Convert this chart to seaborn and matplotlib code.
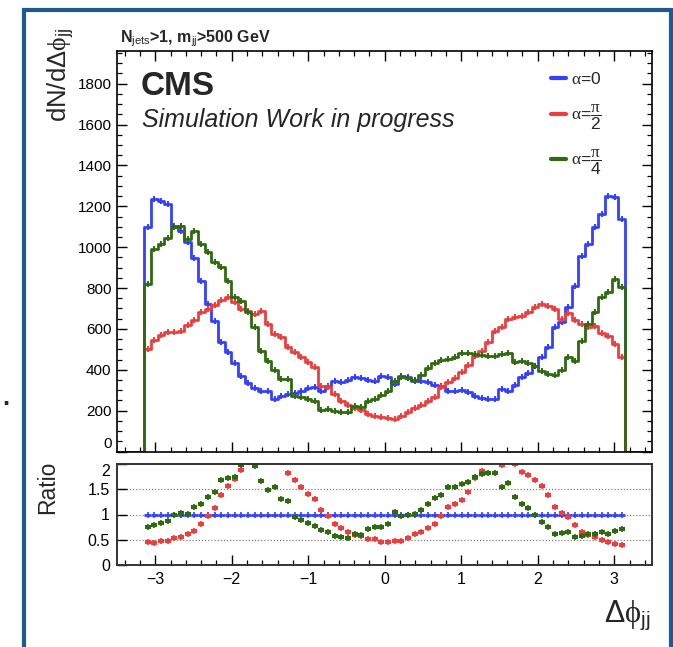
import numpy as np
import pandas as pd
import matplotlib
matplotlib.use("Agg")
import matplotlib.pyplot as plt
import seaborn as sns
from matplotlib.patches import Rectangle
from matplotlib.lines import Line2D
from matplotlib.ticker import MultipleLocator, FixedLocator, FuncFormatter

# Delta-phi_jj distributions (72 bins over [-pi, pi]) for three CP-mixing angles
alpha_0 = [1097, 1236, 1228, 1211, 1105, 1078, 1027, 947, 836, 722, 640, 534, 485, 431, 371, 333,
           310, 297, 297, 257, 273, 281, 288, 297, 310, 314, 297, 322, 343, 341, 351, 363,
           358, 351, 346, 371, 363, 330, 371, 363, 346, 346, 338, 327, 322, 294, 297, 300,
           293, 273, 262, 257, 257, 306, 297, 327, 363, 382, 420, 461, 510, 608, 632, 706,
           812, 958, 1016, 1097, 1162, 1252, 1244, 1138]
alpha_pi2 = [502, 545, 572, 583, 583, 591, 621, 643, 681, 697, 718, 741, 754, 730, 697, 686,
             673, 686, 624, 575, 559, 510, 485, 461, 436, 412, 322, 314, 281, 249, 229, 213,
             203, 183, 175, 170, 164, 159, 175, 191, 211, 229, 245, 268, 314, 338, 359, 387,
             425, 469, 490, 534, 591, 607, 648, 656, 665, 681, 709, 720, 710, 697, 650, 676,
             645, 622, 610, 615, 580, 567, 525, 461]
alpha_pi4 = [820, 991, 1016, 1045, 1097, 1105, 1040, 1081, 1016, 975, 926, 901, 836, 754, 738, 681,
             607, 493, 444, 399, 355, 355, 273, 265, 257, 245, 203, 208, 200, 191, 191, 224,
             216, 249, 257, 278, 294, 346, 363, 359, 350, 376, 408, 433, 449, 452, 461, 480,
             482, 475, 472, 469, 469, 475, 480, 440, 441, 433, 418, 395, 379, 374, 399, 461,
             444, 542, 624, 681, 754, 779, 844, 803]

series_labels = [r"$\alpha$=0", r"$\alpha$=$\dfrac{\pi}{2}$", r"$\alpha$=$\dfrac{\pi}{4}$"]
series_colors = ["#3340ff", "#ee3d3d", "#2f6a10"]

header_text = r"N$_{\mathrm{jets}}$>1, m$_{\mathrm{jj}}$>500 GeV"
x_range = (-3.5, 3.5)

sns.set_theme(style="ticks")
plt.rcParams["font.family"] = ["Liberation Sans", "DejaVu Sans"]
plt.rcParams["mathtext.fontset"] = "custom"
plt.rcParams["mathtext.rm"] = "Liberation Sans"
plt.rcParams["mathtext.sf"] = "Liberation Sans"
plt.rcParams["mathtext.it"] = "Liberation Serif"
plt.rcParams["mathtext.bf"] = "Liberation Sans:bold"
plt.rcParams["axes.unicode_minus"] = True

n_bins = len(alpha_0)
edges = np.linspace(-np.pi, np.pi, n_bins + 1)
centers = 0.5 * (edges[:-1] + edges[1:])
width = edges[1] - edges[0]

# outer empty bins so the outline runs along zero out to the frame edges
ext_edges = np.concatenate([[x_range[0]], edges, [x_range[1]]])
ext_centers = 0.5 * (ext_edges[:-1] + ext_edges[1:])

W, H = 673, 647
fig = plt.figure(figsize=(W / 100, H / 100), dpi=100)
fig.patch.set_facecolor("white")

ax = fig.add_axes([117 / W, 1 - 451.5 / H, 535.5 / W, 400.5 / H])
axr = fig.add_axes([117 / W, 1 - 565 / H, 535.5 / W, 101 / H])

all_series = [alpha_0, alpha_pi2, alpha_pi4]
for vals, col in zip(all_series, series_colors):
    df = pd.DataFrame({"dphi": ext_centers, "w": np.concatenate([[0.0], vals, [0.0]])})
    sns.histplot(data=df, x="dphi", weights="w", bins=list(ext_edges), element="step",
                 fill=False, color=col, linewidth=2.0, ax=ax)
    ax.plot(centers, vals, ls="none", marker="|", ms=5, mew=1.4, color=col)

ax.set_xlim(*x_range)
ax.set_ylim(0, 1960)
ax.set_xlabel("")
ax.set_ylabel("")
ax.xaxis.set_major_locator(MultipleLocator(1))
ax.xaxis.set_minor_locator(MultipleLocator(0.2))
ax.yaxis.set_major_locator(MultipleLocator(200))
ax.yaxis.set_minor_locator(MultipleLocator(50))
ax.yaxis.set_major_formatter(FuncFormatter(lambda v, p: f"{v:.0f}"))
ax.tick_params(which="both", direction="in", top=True, right=True, labelbottom=False,
               colors="black", labelsize=11, pad=4)
ax.tick_params(which="major", length=7, width=1.0)
ax.tick_params(which="minor", length=3.5, width=0.9)
for s in ax.spines.values():
    s.set_color("black")
    s.set_linewidth(1.2)

handles = [Line2D([], [], color=c, lw=3) for c in series_colors]
ax.legend(handles, series_labels, loc="upper left", bbox_to_anchor=(551 / W, 1 - 71 / H),
          bbox_transform=fig.transFigure, frameon=False, fontsize=12.5, handlelength=0.85,
          handletextpad=0.3, labelspacing=0.9, borderpad=0, borderaxespad=0)

# ratio to alpha = 0
base = np.asarray(alpha_0, dtype=float)
for vals, col in zip(all_series, series_colors):
    r = np.asarray(vals, dtype=float) / base
    if vals is alpha_0:
        axr.errorbar(centers, r, xerr=width / 2, fmt="none", ecolor=col, elinewidth=2.0)
        axr.plot(centers, r, ls="none", marker="|", ms=5, mew=1.2, color=col)
    else:
        axr.plot(centers, r, ls="none", marker="_", ms=5, mew=3, color=col)
        axr.plot(centers, r, ls="none", marker="|", ms=5, mew=1.2, color=col)

axr.set_xlim(*x_range)
axr.set_ylim(0, 2)
axr.set_xlabel("")
axr.set_ylabel("")
axr.yaxis.set_major_locator(FixedLocator([0, 0.5, 1, 1.5, 2]))
axr.yaxis.set_major_formatter(FuncFormatter(lambda v, p: f"{v:g}"))
axr.xaxis.set_major_locator(MultipleLocator(1))
axr.xaxis.set_minor_locator(MultipleLocator(0.2))
for yv in (0.5, 1.0, 1.5):
    axr.axhline(yv, color="#808080", ls=(0, (1, 1.5)), lw=0.9, zorder=0)
axr.tick_params(which="both", direction="in", colors="black", labelsize=11.5, pad=5)
axr.tick_params(which="major", length=7, width=1.0)
axr.tick_params(which="minor", length=3.5, width=0.9)
for s in axr.spines.values():
    s.set_color("#333333")
    s.set_linewidth(1.4)

# keep the shared "0" / "2" labels at the pad boundary apart
fig.canvas.draw()
for lab in ax.get_yticklabels():
    if lab.get_text() == "0":
        lab.set_va("bottom")
for lab in axr.get_yticklabels():
    if lab.get_text() == "2":
        lab.set_va("top")

# annotations
fig.text(120 / W, 1 - 43 / H, header_text, fontsize=11.5, weight="bold", va="baseline")
fig.text(141 / W, 1 - 95 / H, "CMS", fontsize=24, weight="bold", va="baseline")
fig.text(142 / W, 1 - 127 / H, "Simulation Work in progress", fontsize=18, style="italic",
         va="baseline")
fig.text(61 / W, 1 - 28 / H, r"dN/d$\Delta\phi_{\mathrm{jj}}$", rotation=90, ha="center",
         va="top", fontsize=18.5)
fig.text(48 / W, 1 - 487 / H, "Ratio", rotation=90, ha="center", va="center", fontsize=16.5)
fig.text(650 / W, 1 - 598 / H, r"$\Delta\phi_{\mathrm{jj}}$", ha="right", va="top", fontsize=22)
fig.text(2 / W, 1 - 405 / H, ".", fontsize=18, weight="bold", va="baseline")

fig.add_artist(Rectangle((23.5 / W, -0.05), (671 - 23.5) / W, (1 - 10 / H) + 0.05,
                         transform=fig.transFigure, fill=False, ec="#1f5a8c", lw=3,
                         clip_on=False))

fig.savefig("out.png", dpi=100, facecolor="white")
